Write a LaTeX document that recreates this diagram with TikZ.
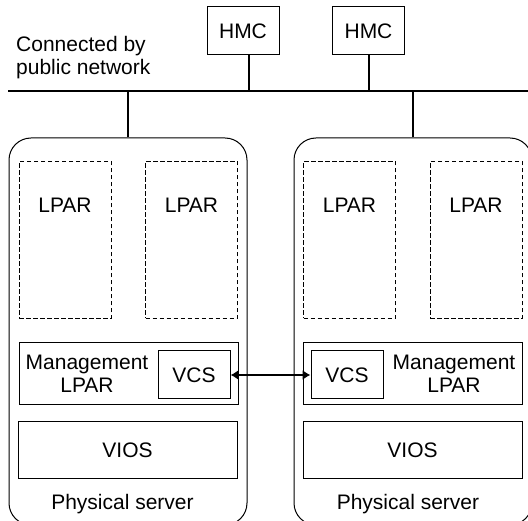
\documentclass[tikz,border=0pt]{standalone}
\usepackage{fontspec}
\setmainfont{Liberation Sans}
\usetikzlibrary{arrows.meta}

\begin{document}
\begin{tikzpicture}[x=1pt, y=-1pt, font=\fontsize{21}{23.5}\selectfont,
        box/.style = {draw, rectangle, line width=1pt, inner sep=0pt},
        server/.style = {box, rounded corners=22pt, minimum width=238pt, minimum height=387pt},
        lpar/.style = {box, dash pattern=on 4.5pt off 2.5pt, minimum width=92pt, minimum height=157pt},
        mgmt/.style = {box, minimum width=219pt, minimum height=62pt},
        vcs/.style = {box, minimum width=72pt, minimum height=48pt},
        vios/.style = {box, minimum width=219pt, minimum height=57pt},
        hmc/.style = {box, minimum width=72pt, minimum height=48pt},
        link/.style = {line width=2pt}]
        \useasboundingbox (0,0) rectangle (528,521);
        \clip (0,0) rectangle (528,521);

        \coordinate (netL) at (8,91);
        \coordinate (netR) at (530,91);
        \node[align=left, anchor=north west, inner sep=0pt] (net) at (16,36) {Connected by\\public network};

        \node[hmc] (H1) at (243,31) {HMC};
        \node[hmc] (H2) at (368.5,31) {HMC};

        \node[server] (S1) at (128,331.5) {};
        \node[server] (S2) at (413,331.5) {};

        \node[lpar] (L1) at (65,240) {};
        \node[lpar] (L2) at (191.5,240) {};
        \node[lpar] (L3) at (349.5,240) {};
        \node[lpar] (L4) at (476,240) {};
        \node (L1t) at ([yshift=-44pt]L1.north) {LPAR};
        \node (L2t) at ([yshift=-44pt]L2.north) {LPAR};
        \node (L3t) at ([yshift=-44pt]L3.north) {LPAR};
        \node (L4t) at ([yshift=-44pt]L4.north) {LPAR};

        \node[mgmt] (M1) at (128.5,374) {};
        \node[mgmt] (M2) at (413,374) {};
        \node[align=center] (M1t) at (87,374) {Management\\LPAR};
        \node[align=center] (M2t) at (454,374) {Management\\LPAR};
        \node[vcs] (V1) at (194,375) {VCS};
        \node[vcs] (V2) at (347,375) {VCS};

        \node[vios] (I1) at (127.5,450.5) {VIOS};
        \node[vios] (I2) at (412.5,450.5) {VIOS};

        \node (P1) at (122.5,504) {Physical server};
        \node (P2) at (408,504) {Physical server};

        \draw[link] (netL) -- (netR);
        \draw[link] ([xshift=6pt]H1.south) -- ([xshift=6pt]H1.south |- netL);
        \draw[link] (H2.south) -- (H2.south |- netL);
        \draw[link] (S1.north) -- (S1.north |- netL);
        \draw[link] (S2.north) -- (S2.north |- netL);
        \draw[line width=1.5pt, {Latex[length=8pt,width=10pt]}-{Latex[length=8pt,width=10pt]}] (V1.east) -- (V2.west);
    \end{tikzpicture}
\end{document}
